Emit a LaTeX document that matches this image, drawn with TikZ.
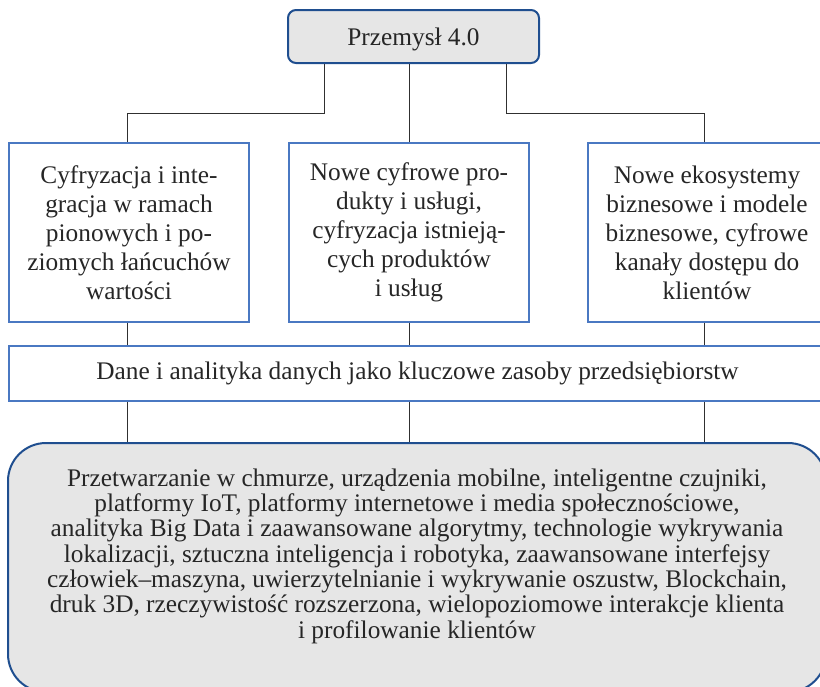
\documentclass[tikz,border=0pt]{standalone}
\usepackage{fontspec}
\setmainfont{Liberation Serif}
\definecolor{darkblue}{HTML}{1F4E8F}
\definecolor{lightblue}{HTML}{4A78C2}
\definecolor{boxgray}{HTML}{E6E6E6}
\definecolor{linegray}{HTML}{303030}
\begin{document}
\begin{tikzpicture}[x=0.75pt,y=-0.75pt,
  txt/.style={font=\fontsize{19}{21.75}\selectfont, align=center, text=black!85, inner sep=0pt},
  topbox/.style={txt, draw=darkblue, line width=1.5pt, fill=boxgray, rounded corners=6pt,
    minimum width=188.25pt, minimum height=39.75pt, text depth=0pt},
  midbox/.style={txt, draw=lightblue, line width=1pt, minimum height=134.25pt},
  danebox/.style={txt, draw=lightblue, line width=1.2pt, minimum width=612.75pt, minimum height=41.25pt},
  botbox/.style={draw=darkblue, line width=1.5pt, fill=boxgray, rounded corners=28.5pt,
    minimum width=613.5pt, minimum height=186.75pt, inner sep=0pt},
  conn/.style={draw=linegray, line width=0.75pt}]
\useasboundingbox (0,0) rectangle (820,686);
\clip (0,0) rectangle (820,686);

\node[topbox] (top) at (413.5,36.5) {Przemysł 4.0};

\node[midbox, minimum width=180pt] (left) at (129,232.5)
  {Cyfryzacja i inte-\\gracja w ramach\\pionowych i po-\\ziomych łańcuchów\\wartości};
\node[midbox, minimum width=180pt] (mid) at (409,232.5)
  {Nowe cyfrowe pro-\\dukty i usługi,\\cyfryzacja istnieją-\\cych produktów\\i usług};
\node[midbox, minimum width=178.5pt] (right) at (707,232.5)
  {Nowe ekosystemy\\biznesowe i modele\\biznesowe, cyfrowe\\kanały dostępu do\\klientów};

\node[danebox] (dane) at (417.5,373.5)
  {Dane i analityka danych jako kluczowe zasoby przedsiębiorstw};

\node[botbox] (bottom) at (417,567.5) {};
\node[txt, font=\fontsize{19}{19}\selectfont] (bottomtext) at (417,556)
  {Przetwarzanie w chmurze, urządzenia mobilne, inteligentne czujniki,\\
   platformy IoT, platformy internetowe i media społecznościowe,\\
   analityka Big Data i zaawansowane algorytmy, technologie wykrywania\\
   lokalizacji, sztuczna inteligencja i robotyka, zaawansowane interfejsy\\
   człowiek–maszyna, uwierzytelnianie i wykrywanie oszustw, Blockchain,\\
   druk 3D, rzeczywistość rozszerzona, wielopoziomowe interakcje klienta\\
   i profilowanie klientów};

% connectors from top
\draw[conn] ([xshift=-67.1pt]top.south) -- ++(0,49) -| ([xshift=-1.5pt]left.north);
\draw[conn] (top.south -| mid.north) -- (mid.north);
\draw[conn] ([xshift=70.1pt]top.south) -- ++(0,49) -| ([xshift=-2.25pt]right.north);

% connectors to dane
\draw[conn] ([xshift=-1.5pt]left.south) -- ([xshift=-1.5pt]left.south |- dane.north);
\draw[conn] (mid.south) -- (mid.south |- dane.north);
\draw[conn] ([xshift=-2.25pt]right.south) -- ([xshift=-2.25pt]right.south |- dane.north);

% connectors to bottom
\draw[conn] (dane.south -| left.south) ++(-1.5pt,0) -- ([xshift=-1.5pt]left.south |- bottom.north);
\draw[conn] (dane.south -| mid.south) -- (mid.south |- bottom.north);
\draw[conn] (dane.south -| right.south) ++(-2.25pt,0) -- ([xshift=-2.25pt]right.south |- bottom.north);
\end{tikzpicture}
\end{document}
